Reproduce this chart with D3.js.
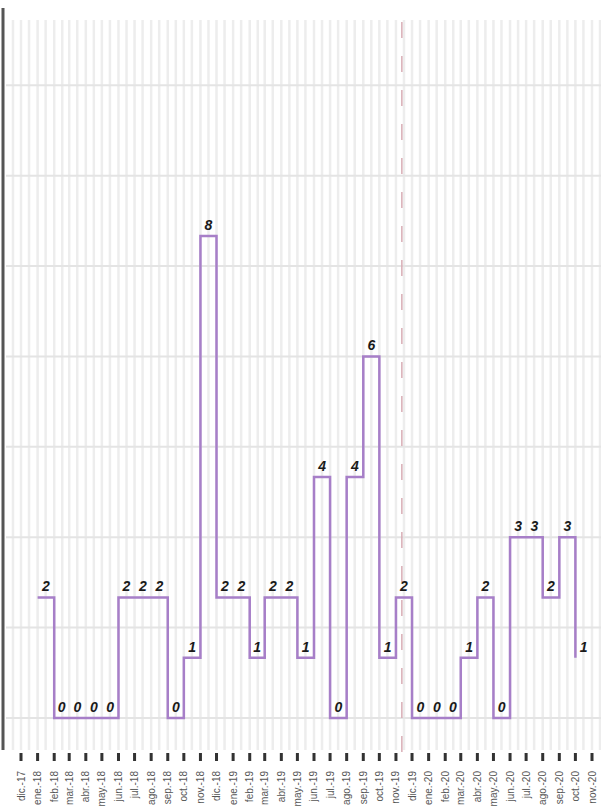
<!DOCTYPE html>
<html>
<head>
<meta charset="utf-8">
<script src="https://d3js.org/d3.v7.min.js"></script>
<style>
  body { margin: 0; padding: 0; background: #fff; }
  svg { display: block; }
  .grid line { stroke: #ededed; stroke-width: 2.5; }
  .hgrid line { stroke: #e4e4e4; stroke-width: 2; }
  .xlab { font-family: "Liberation Sans", sans-serif; font-size: 10px; fill: #555; }
  .val { font-family: "Liberation Sans", sans-serif; font-size: 14px; font-weight: bold; font-style: italic; fill: #1a1a1a; }
  .line { fill: none; stroke: #a77fc8; stroke-width: 2.5; }
</style>
</head>
<body>
<div id="chart"></div>
<script>
// months shown on the axis
var tickMonths = ["2017-12","2018-01","2018-02","2018-03","2018-04","2018-05","2018-06","2018-07","2018-08","2018-09","2018-10","2018-11","2018-12",
  "2019-01","2019-02","2019-03","2019-04","2019-05","2019-06","2019-07","2019-08","2019-09","2019-10","2019-11","2019-12",
  "2020-01","2020-02","2020-03","2020-04","2020-05","2020-06","2020-07","2020-08","2020-09","2020-10","2020-11"];
var tickLabels = ["dic.-17","ene.-18","feb.-18","mar.-18","abr.-18","may.-18","jun.-18","jul.-18","ago.-18","sep.-18","oct.-18","nov.-18","dic.-18",
  "ene.-19","feb.-19","mar.-19","abr.-19","may.-19","jun.-19","jul.-19","ago.-19","sep.-19","oct.-19","nov.-19","dic.-19",
  "ene.-20","feb.-20","mar.-20","abr.-20","may.-20","jun.-20","jul.-20","ago.-20","sep.-20","oct.-20","nov.-20"];

// series
var months = ["2018-01","2018-02","2018-03","2018-04","2018-05","2018-06","2018-07","2018-08","2018-09","2018-10","2018-11","2018-12",
  "2019-01","2019-02","2019-03","2019-04","2019-05","2019-06","2019-07","2019-08","2019-09","2019-10","2019-11","2019-12",
  "2020-01","2020-02","2020-03","2020-04","2020-05","2020-06","2020-07","2020-08","2020-09","2020-10"];
var values = [2,0,0,0,0,2,2,2,0,1,8,2,
  2,1,2,2,1,4,0,4,6,1,2,0,
  0,0,1,2,0,3,3,2,3,1];

var yTicks = [0, 1.5, 3, 4.5, 6, 7.5, 9, 10.5];
var markerDate = "2019-11-12";

var W = 601, H = 812;
var parseM = d3.timeParse("%Y-%m");
var parseD = d3.timeParse("%Y-%m-%d");

var x = d3.scaleTime()
  .domain([parseM("2017-12"), parseM("2020-11")])
  .range([21, 592]);

var y = d3.scaleLinear()
  .domain([0, 11.6])
  .range([718, 19]);

var svg = d3.select("#chart").append("svg")
  .attr("width", W)
  .attr("height", H);

// semi-monthly vertical grid
var gridDates = [];
d3.timeMonth.range(parseM("2017-11"), parseM("2020-12")).forEach(function(d) {
  gridDates.push(d);
  gridDates.push(d3.timeDay.offset(d, 15));
});
gridDates = gridDates.filter(function(d) { return x(d) > 8 && x(d) < W; });

svg.append("g").attr("class", "grid")
  .selectAll("line")
  .data(gridDates)
  .enter().append("line")
  .attr("x1", function(d) { return x(d); })
  .attr("x2", function(d) { return x(d); })
  .attr("y1", 20)
  .attr("y2", 750);

svg.append("g").attr("class", "hgrid")
  .selectAll("line")
  .data(yTicks)
  .enter().append("line")
  .attr("x1", 6)
  .attr("x2", W)
  .attr("y1", function(d) { return y(d); })
  .attr("y2", function(d) { return y(d); });

// marker
svg.append("line")
  .attr("x1", x(parseD(markerDate)))
  .attr("x2", x(parseD(markerDate)))
  .attr("y1", 22)
  .attr("y2", 752)
  .style("stroke", "#d9aeb6")
  .style("stroke-width", 1.5)
  .style("stroke-dasharray", "16,18");

// left axis line
svg.append("line")
  .attr("x1", 3).attr("x2", 3)
  .attr("y1", 8).attr("y2", 750)
  .style("stroke", "#555")
  .style("stroke-width", 3);

// bottom ticks + labels
var xt = svg.append("g");
xt.selectAll("rect")
  .data(tickMonths)
  .enter().append("rect")
  .attr("x", function(d) { return x(parseM(d)) - 1.5; })
  .attr("y", 753)
  .attr("width", 3)
  .attr("height", 8)
  .style("fill", "#333");

xt.selectAll("text")
  .data(tickMonths)
  .enter().append("text")
  .attr("class", "xlab")
  .attr("transform", function(d) { return "translate(" + (x(parseM(d)) + 3.5) + ",771) rotate(-90)"; })
  .attr("text-anchor", "end")
  .text(function(d, i) { return tickLabels[i]; });

// step line
var data = months.map(function(m, i) { return { date: parseM(m), v: values[i] }; });

var line = d3.line()
  .curve(d3.curveStepAfter)
  .x(function(d) { return x(d.date); })
  .y(function(d) { return y(d.v); });

svg.append("path")
  .datum(data)
  .attr("class", "line")
  .attr("d", line);

svg.selectAll(".val")
  .data(data)
  .enter().append("text")
  .attr("class", "val")
  .attr("text-anchor", "middle")
  .attr("x", function(d) { return (x(d.date) + x(d3.timeMonth.offset(d.date, 1))) / 2; })
  .attr("y", function(d) { return y(d.v) - 6; })
  .text(function(d) { return d.v; });
</script>
</body>
</html>
